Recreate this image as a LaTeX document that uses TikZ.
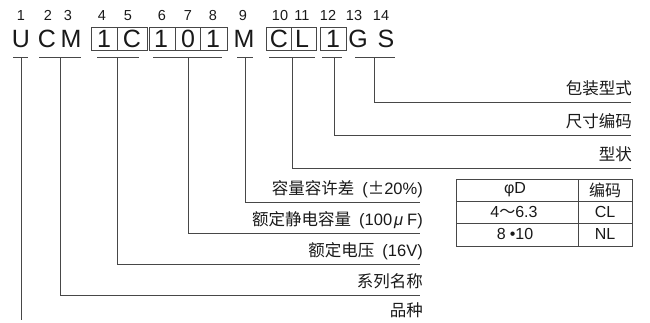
\documentclass[tikz,border=0pt]{standalone}
\usepackage{fontspec}
\setmainfont{Liberation Sans}
\newfontfamily\cjk{Noto Sans CJK SC}
\begin{document}
\begin{tikzpicture}[x=1pt,y=-1pt,
  ln/.style={draw=black!72, line width=1pt},
  bx/.style={draw=black!72, line width=0.9pt},
  big/.style={font=\fontsize{25}{26}\selectfont, inner sep=0, text=black!90},
  num/.style={font=\fontsize{14.5}{15}\selectfont, inner sep=0, text=black!90},
  lab/.style={font=\fontsize{16.5}{17}\selectfont, inner sep=0, anchor=base east, text=black!90},
  cell/.style={font=\fontsize{16}{17}\selectfont, inner sep=0, text=black!90}]
\useasboundingbox (0,0) rectangle (650,322);

% position numbers
\foreach \n/\x in {1/21,2/48,3/68,4/102,5/128,6/162,7/188,8/213,9/243,10/280,11/302,12/328,13/354,14/381}
  \node[num] (n\n) at (\x,15.5) {\n};

% code letters
\node[big] (cU)  at (21,39) {U};
\node[big] (cC)  at (47,39) {C};
\node[big] (cM)  at (71,39) {M};
\node[big] (c1)  at (104,39) {1};
\node[big] (c2)  at (132,39) {C};
\node[big] (c3)  at (161,39) {1};
\node[big] (c4)  at (188,39) {0};
\node[big] (c5)  at (213,39) {1};
\node[big] (c6)  at (244,39) {M};
\node[big] (c7)  at (279,39) {C};
\node[big] (c8)  at (302,39) {L};
\node[big] (c9)  at (333,39) {1};
\node[big] (c10) at (358,39) {G};
\node[big] (c11) at (386,39) {S};

% boxes
\draw[bx] (91,27) rectangle (147,50) (117,27) -- (117,50);
\draw[bx] (149,27) rectangle (227,50) (175,27) -- (175,50) (200,27) -- (200,50);
\draw[bx] (266,27) rectangle (316,50) (291,27) -- (291,50);
\draw[bx] (320,27) rectangle (346,50);

% underlines
\draw[ln] (13,57) -- (28,57);
\draw[ln] (39,57) -- (81,57);
\draw[ln] (97,57) -- (139,57);
\draw[ln] (153,57) -- (222,57);
\draw[ln] (237,57) -- (253,57);
\draw[ln] (269,57) -- (315,57);
\draw[ln] (322,57) -- (342,57);
\draw[ln] (355,57) -- (395,57);

% start points
\coordinate (sU)  at (21,57);
\coordinate (sCM) at (60,57);
\coordinate (s1C) at (117,57);
\coordinate (s101) at (188,57);
\coordinate (sM)  at (245,57);
\coordinate (sCL) at (292,57);
\coordinate (s1)  at (334,57);
\coordinate (sGS) at (374,57);

% end points
\coordinate (eU)  at (21,320);
\coordinate (eCM) at (420,295);
\coordinate (e1C) at (420,264);
\coordinate (e101) at (420,233);
\coordinate (eM)  at (420,202);
\coordinate (eCL) at (631,168);
\coordinate (e1)  at (631,135);
\coordinate (eGS) at (631,102);

% connectors
\draw[ln] (sU) -- (eU);
\draw[ln] (sCM) |- (eCM);
\draw[ln] (s1C) |- (e1C);
\draw[ln] (s101) |- (e101);
\draw[ln] (sM) |- (eM);
\draw[ln] (sCL) |- (eCL);
\draw[ln] (s1) |- (e1);
\draw[ln] (sGS) |- (eGS);

% labels
\node[lab] (lGS) at (632,94.5) {\cjk 包装型式};
\node[lab] (l1)  at (632,127.5) {\cjk 尺寸编码};
\node[lab] (lCL) at (632,160.5) {\cjk 型状};
\node[lab] (lM)  at (423,194.5) {{\cjk 容量容许差}\hspace{8pt}({\cjk ±}20\%)};
\node[lab] (l101) at (423,225) {{\cjk 额定静电容量}\hspace{8pt}(100\hspace{2pt}\textit{μ}\hspace{4pt}F)};
\node[lab] (l1C) at (423,256) {{\cjk 额定电压}\hspace{8pt}(16V)};
\node[lab] (lCM) at (423,287) {\cjk 系列名称};
\node[lab] (lU)  at (423,316) {\cjk 品种};

% table
\draw[bx] (456,179) rectangle (632,246);
\draw[bx] (456,201) -- (632,201) (456,223) -- (632,223) (578,179) -- (578,246);
\node[cell] (t11) at (515,190) {φD};
\node[cell] (t12) at (605,190) {\cjk 编码};
\node[cell] (t21) at (514,212) {4{\cjk ～}6.3};
\node[cell] (t22) at (605,212) {CL};
\node[cell] (t31) at (515,234) {8\hspace{4pt}•10};
\node[cell] (t32) at (605,234) {NL};
\end{tikzpicture}
\end{document}
